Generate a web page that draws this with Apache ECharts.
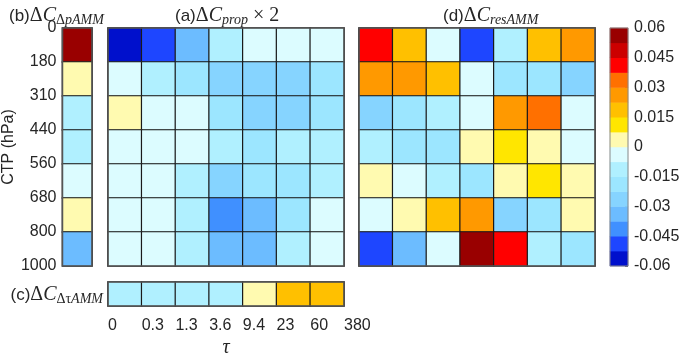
<!DOCTYPE html>
<html>
<head>
<meta charset="utf-8">
<script src="https://cdn.jsdelivr.net/npm/echarts@6/dist/echarts.min.js"></script>
<style>
  html, body { margin: 0; padding: 0; background: #fff; }
  #chart { width: 685px; height: 359px; }
</style>
</head>
<body>
<div id="chart"></div>
<script>
const ctpLabels = ["0", "180", "310", "440", "560", "680", "800", "1000"];
const tauLabels = ["0", "0.3", "1.3", "3.6", "9.4", "23", "60", "380"];

// colour levels, bottom to top
const levels = [-0.06, -0.0525, -0.045, -0.0375, -0.03, -0.0225, -0.015, -0.0075, 0,
	0.0075, 0.015, 0.0225, 0.03, 0.0375, 0.045, 0.0525, 0.06];
const bandColors = ["#0010cc", "#1e46ff", "#4090ff", "#6cbcff", "#86d4ff", "#9ce6ff", "#b0f0ff", "#dcfcff",
	"#fffab0", "#ffe600", "#ffc000", "#ff9900", "#ff7000", "#ff0000", "#cc0000", "#990000"];

// (b) column, top row (0-180 hPa) first
const pAMM = [0.056, 0.004, -0.013, -0.013, -0.004, 0.004, -0.034];

// (c) row, tau bins left to right
const tauAMM = [-0.011, -0.011, -0.011, -0.011, 0.004, 0.019, 0.019];

// (a) rows top to bottom, columns tau bins
const prop = [
	[-0.056, -0.049, -0.034, -0.011, -0.004, -0.004, -0.004],
	[-0.004, -0.011, -0.019, -0.026, -0.026, -0.027, -0.019],
	[0.004, -0.004, -0.004, -0.019, -0.026, -0.027, -0.019],
	[-0.004, -0.004, -0.004, -0.011, -0.019, -0.011, -0.011],
	[-0.004, -0.004, -0.011, -0.026, -0.019, -0.019, -0.011],
	[-0.004, -0.004, -0.011, -0.041, -0.034, -0.019, -0.004],
	[-0.004, -0.004, -0.011, -0.034, -0.034, -0.011, -0.004],
];

// (d)
const resAMM = [
	[0.041, 0.019, -0.004, -0.049, -0.011, 0.019, 0.026],
	[0.026, 0.026, 0.019, -0.004, -0.019, -0.019, -0.026],
	[-0.026, -0.019, -0.011, -0.004, 0.026, 0.034, -0.004],
	[-0.011, -0.019, -0.019, 0.004, 0.011, 0.004, -0.004],
	[0.004, -0.004, -0.011, -0.019, 0.004, 0.011, 0.004],
	[-0.004, 0.004, 0.019, 0.026, -0.026, -0.019, 0.004],
	[-0.049, -0.034, -0.004, 0.056, 0.041, -0.011, -0.019],
];

const idx7 = [0, 1, 2, 3, 4, 5, 6];
const gridData = (m) => m.flatMap((row, r) => row.map((v, c) => [c, r, v]));
const colorbarData = bandColors.map((_, i) => [0, i, (levels[i] + levels[i + 1]) / 2]);

const txt = "#262626";
const sans = "Liberation Sans";
const serif = "Liberation Serif";
const cellStyle = { borderColor: "#1a1a1a", borderWidth: 1.2 };
const hidden = { show: false };

function catAxis(gridIndex, extra) {
	return Object.assign({
		type: "category", gridIndex, data: idx7,
		axisLine: hidden, axisTick: hidden, axisLabel: hidden, splitLine: hidden,
	}, extra);
}

const rich = {
	p: { fontFamily: sans, fontSize: 17, fontWeight: "normal", color: txt },
	d: { fontFamily: serif, fontSize: 20, fontWeight: "normal", color: txt },
	m: { fontFamily: serif, fontSize: 20, fontWeight: "normal", fontStyle: "italic", color: txt },
	sd: { fontFamily: serif, fontSize: 14, fontWeight: "normal", color: txt, padding: [8, 0, 0, 0] },
	s: { fontFamily: serif, fontSize: 14, fontWeight: "normal", fontStyle: "italic", color: txt, padding: [8, 0, 0, 0] },
};
const titleStyle = { fontWeight: "normal", rich };

const chart = echarts.init(document.getElementById("chart"));
chart.setOption({
	animation: false,
	title: [
		{ text: "{p|(b)}{d|Δ}{m|C}{sd|Δ}{s|pAMM}", left: 4, top: 0, textStyle: titleStyle },
		{ text: "{p|(a)}{d|Δ}{m|C}{s|prop}{d| × 2}", left: 170, top: 0, textStyle: titleStyle },
		{ text: "{p|(d)}{d|Δ}{m|C}{s|resAMM}", left: 438, top: 0, textStyle: titleStyle },
		{ text: "{p|(c)}{d|Δ}{m|C}{sd|Δτ}{s|AMM}", right: 577, top: 279, textStyle: titleStyle },
	],
	grid: [
		{ left: 57, top: 28, width: 35, height: 238, show: true, borderColor: "#555", borderWidth: 1.5, z: 10 },
		{ left: 108, top: 28, width: 236, height: 238, show: true, borderColor: "#555", borderWidth: 1.5, z: 10 },
		{ left: 359, top: 28, width: 236, height: 238, show: true, borderColor: "#555", borderWidth: 1.5, z: 10 },
		{ left: 108, top: 282, width: 236, height: 33, show: true, borderColor: "#555", borderWidth: 1.5, z: 10 },
		{ left: 610, top: 28, width: 18, height: 238, show: true, borderColor: "#888", borderWidth: 1, z: 10 },
	],
	xAxis: [
		catAxis(0, { data: [0] }),
		catAxis(1),
		catAxis(2),
		catAxis(3),
		catAxis(4, { data: [0] }),
		{
			type: "value", gridIndex: 3, min: 0, max: 7, interval: 1, position: "bottom",
			axisLine: hidden, axisTick: hidden, splitLine: hidden,
			axisLabel: { color: txt, fontFamily: sans, fontSize: 16, margin: 12, align: "left", formatter: (v) => tauLabels[v] },
			name: "τ", nameLocation: "middle", nameGap: 32,
			nameTextStyle: { fontFamily: serif, fontStyle: "italic", fontSize: 20, color: txt },
		},
	],
	yAxis: [
		catAxis(0, { inverse: true }),
		catAxis(1, { inverse: true }),
		catAxis(2, { inverse: true }),
		catAxis(3, { data: [0] }),
		catAxis(4, { data: bandColors.map((_, i) => i) }),
		{
			type: "value", gridIndex: 0, min: 0, max: 7, interval: 1, inverse: true, position: "left",
			axisLine: hidden, axisTick: hidden, splitLine: hidden,
			axisLabel: { color: txt, fontFamily: sans, fontSize: 16, margin: 6, padding: [3, 0, 0, 0], formatter: (v) => ctpLabels[v] },
			name: "CTP (hPa)", nameLocation: "middle", nameGap: 35, nameRotate: 90,
			nameTextStyle: { fontFamily: sans, fontSize: 16, color: txt },
		},
		{
			type: "value", gridIndex: 4, min: -0.06, max: 0.06, interval: 0.015, position: "right",
			axisLine: hidden, splitLine: hidden,
			axisTick: { show: true, inside: true, length: 3, lineStyle: { color: "#666" } },
			axisLabel: { color: txt, fontFamily: sans, fontSize: 16, margin: 6, padding: [4, 0, 0, 0], formatter: (v) => String(+v.toFixed(4)) },
		},
	],
	visualMap: {
		type: "piecewise", show: false, seriesIndex: [0, 1, 2, 3, 4], dimension: 2,
		pieces: bandColors.map((c, i) => ({ gte: levels[i], lt: levels[i + 1], color: c })),
	},
	series: [
		{ type: "heatmap", xAxisIndex: 0, yAxisIndex: 0, data: pAMM.map((v, r) => [0, r, v]), itemStyle: cellStyle },
		{ type: "heatmap", xAxisIndex: 1, yAxisIndex: 1, data: gridData(prop), itemStyle: cellStyle },
		{ type: "heatmap", xAxisIndex: 2, yAxisIndex: 2, data: gridData(resAMM), itemStyle: cellStyle },
		{ type: "heatmap", xAxisIndex: 3, yAxisIndex: 3, data: tauAMM.map((v, c) => [c, 0, v]), itemStyle: cellStyle },
		{ type: "heatmap", xAxisIndex: 4, yAxisIndex: 4, data: colorbarData, itemStyle: { borderWidth: 0 } },
	],
});
</script>
</body>
</html>
